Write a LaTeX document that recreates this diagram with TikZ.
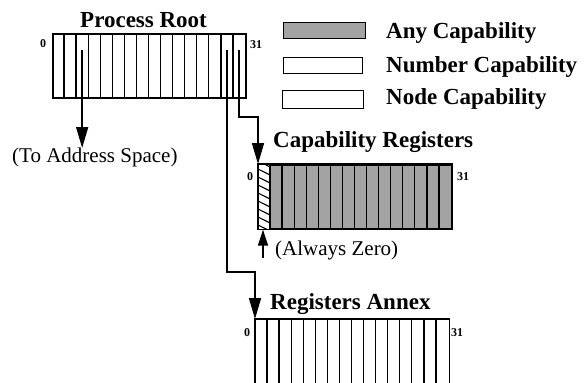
\documentclass[tikz,border=0pt]{standalone}
\usepackage{fontspec}
\setmainfont{Liberation Serif}
\usetikzlibrary{arrows.meta,calc}
\begin{document}
\begin{tikzpicture}[x=1pt,y=-1pt,
  title/.style={font=\bfseries\fontsize{23}{26}\selectfont, inner sep=0pt, anchor=base west},
  plain/.style={font=\fontsize{21}{24}\selectfont, inner sep=0pt, anchor=base west},
  idx/.style={font=\bfseries\fontsize{12}{14}\selectfont, inner sep=0pt},
  regbox/.style={draw, line width=1.6pt, minimum width=193pt, minimum height=64pt, inner sep=0pt, anchor=north west},
  cellline/.style={line width=1.3pt},
  conn/.style={line width=1.5pt},
  bigtip/.style={-{Triangle[length=21pt,width=12pt]}},
  smalltip/.style={-{Triangle[length=16pt,width=10pt]}},
  legbox/.style={draw, line width=1.4pt, inner sep=0pt, anchor=north west}
]
\useasboundingbox (0,0) rectangle (584,383);
\def\w{12.0625}

% ---------- Process Root ----------
\node[title] (prt) at (80,27) {Process Root};
\node[regbox] (pr) at (52,33) {};
\foreach \i in {1,...,15}
  \draw[cellline] ($(pr.north west)+(\i*\w,0)$) -- ($(pr.south west)+(\i*\w,0)$);
\node[idx] (pr0) at (43,44) {0};
\node[idx] (pr31) at (256,45) {31};

% ---------- Capability Registers ----------
\node[title] (crt) at (273,147) {Capability Registers};
\node[regbox, fill=black!36] (cr) at (258,164) {};
\fill[white] (cr.north west) rectangle ($(cr.south west)+(\w,0)$);
\begin{scope}
  \clip (cr.north west) rectangle ($(cr.south west)+(\w,0)$);
  \foreach \k in {0,...,8}
    \draw[line width=1.1pt] ($(cr.north west)+(0,\k*8-3)$) -- ++(\w,6);
\end{scope}
\foreach \i in {1,...,15}
  \draw[cellline] ($(cr.north west)+(\i*\w,0)$) -- ($(cr.south west)+(\i*\w,0)$);
\draw[line width=1.6pt] (cr.north west) rectangle (cr.south east);
\node[idx] (cr0) at (250,177) {0};
\node[idx] (cr31) at (463,177) {31};

% ---------- Registers Annex ----------
\node[title] (ant) at (270,309) {Registers Annex};
\node[regbox, draw=none] (an) at (255,319) {};
\draw[line width=1.6pt] (an.south west) -- (an.north west) -- (an.north east) -- (an.south east);
\foreach \i in {1,...,15}
  \draw[cellline] ($(an.north west)+(\i*\w,0)$) -- ($(an.south west)+(\i*\w,0)$);
\node[idx] (an0) at (247,333) {0};
\node[idx] (an31) at (457,333) {31};

% ---------- Legend ----------
\node[legbox, fill=black!36, minimum width=82pt, minimum height=16pt] (lg1) at (283,22) {};
\node[title] (lt1) at (386,38) {Any Capability};
\node[legbox, minimum width=79pt, minimum height=16pt] (lg2) at (283,57) {};
\node[title] (lt2) at (386,72) {Number Capability};
\node[legbox, minimum width=81pt, minimum height=18pt] (lg3) at (282,90) {};
\node[title] (lt3) at (386,104) {Node Capability};

% ---------- Connectors ----------
\coordinate (p2) at ($(pr.north west)+(2.5*\w,17)$);
\coordinate (p14) at ($(pr.north west)+(14.5*\w,17)$);
\coordinate (p15) at ($(pr.north west)+(15.5*\w,17)$);

\node[plain] (tas) at (12,162) {(To Address Space)};
\coordinate (tasend) at (p2 |- 0,148);
\draw[conn,bigtip] (p2) -- (tasend);

\draw[conn,bigtip] (p15) -- ++(0,67) -| (cr.north west);
\draw[conn,bigtip] (p14) -- ++(0,222) -| (an.north west);

\node[plain] (az) at (275,255) {(Always Zero)};
\coordinate (azs) at (263,258);
\draw[conn,smalltip] (azs) -- (azs |- cr.south);
\end{tikzpicture}
\end{document}
